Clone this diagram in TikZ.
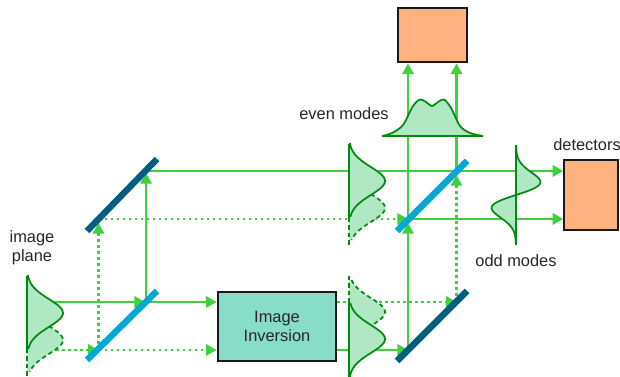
\documentclass[tikz,border=0pt]{standalone}
\usepackage{xcolor}
\usepackage{fontspec}
\setmainfont{Liberation Sans}
\usetikzlibrary{arrows.meta, positioning, calc}
\definecolor{raygreen}{HTML}{3FCF3F}
\definecolor{curvegreen}{HTML}{008A0E}
\definecolor{lobefill}{HTML}{B0E8C4}
\definecolor{mirrorblue}{HTML}{005F7F}
\definecolor{splitblue}{HTML}{00A8D6}
\definecolor{invfill}{HTML}{88DDC8}
\definecolor{detfill}{HTML}{FFB27F}
\tikzset{
	ray/.style={draw=raygreen, line width=1.9pt},
	rayline/.style={ray, -{Triangle[length=8pt, width=8.5pt]}},
	dotline/.style={rayline, dash pattern=on 2.2pt off 2.3pt},
	mirror/.style={draw=mirrorblue, line width=4.8pt},
	splitter/.style={draw=splitblue, line width=4.8pt},
	block/.style={draw=black!90, line width=1.7pt, align=center, inner sep=0pt},
	curve/.style={draw=curvegreen, line width=1.3pt},
	curvedash/.style={curve, dash pattern=on 3.2pt off 2.4pt},
	tag/.style={font=\fontsize{12.3}{14.2}\selectfont, text=black!85, align=center, inner sep=0pt}
}
% One gaussian lobe: axis x, centre y, start and end of the range, line style
\newcommand{\lobe}[5]{
	\fill[lobefill] (#1,#2+#3) -- plot[variable=\t, domain=#3:#4, samples=50] ({#1+36*exp(-(\t*\t)/392)},{#2+\t}) -- (#1,#2+#4) -- cycle;
	\draw[#5] plot[variable=\t, domain=#3:#4, samples=50] ({#1+36*exp(-(\t*\t)/392)},{#2+\t});
}

\begin{document}
\begin{tikzpicture}[x=0.75pt, y=-0.75pt]
	\useasboundingbox (0,0) rectangle (620,377);
	
	% === NODES ===
	\node[block, fill=invfill, minimum width=89pt, minimum height=52pt, font=\fontsize{12.3}{13.6}\selectfont, text=black!85] (inv) at (277,326.5) {Image\\Inversion};
	\node[block, fill=detfill, minimum width=52pt, minimum height=41pt] (dettop) at (432.5,35) {};
	\node[block, fill=detfill, minimum width=40pt, minimum height=52pt] (detright) at (591,195) {};
	
	\node[tag] (plane) at (32,247.5) {image\\plane};
	\node[tag] (even) at (344,114) {even modes};
	\node[tag] (odd) at (516,261) {odd modes};
	\node[tag] (det) at (587,145) {detectors};
	
	% === POINTS ON THE OPTICS ===
	\coordinate (in1) at (50,302);
	\coordinate (in2) at (50,350);
	\coordinate (bs1a) at (145,302);
	\coordinate (bs1b) at (98.5,350);
	\coordinate (m1a) at (146,171);
	\coordinate (m1b) at (98.5,219);
	\coordinate (bs2a) at (456.5,171);
	\coordinate (bs2b) at (408,219);
	\coordinate (m2a) at (408,350);
	\coordinate (m2b) at (456.5,302);
	
	% === CONNECTIONS ===
	\draw[rayline] (in1) -- (bs1a);
	\draw[rayline] (bs1a) -- (inv.west |- bs1a);
	\draw[dotline] (in2) -- (bs1b);
	\draw[dotline] (bs1b) -- (inv.west |- bs1b);
	\draw[rayline] (bs1a -| m1a) -- ($(m1a)+(0,2)$);
	\draw[dotline] (bs1b) -- ($(m1b)+(0,4)$);
	\draw[rayline] (m1a) -- (detright.west |- m1a);
	\draw[dotline] (m1b) -- (bs2b);
	\draw[rayline] (bs2b) -- (detright.west |- bs2b);
	\draw[rayline] (inv.east |- m2a) -- (m2a);
	\draw[dotline] (inv.east |- m2b) -- (m2b);
	\draw[rayline] (m2a) -- ($(bs2b)+(0,4)$);
	\draw[rayline] (bs2b) -- (bs2b |- dettop.south);
	\draw[dotline] (m2b) -- ($(bs2a)+(0,4)$);
	\draw[rayline] (bs2a) -- (bs2a |- dettop.south);
	
	% === MIRRORS ===
	\draw[splitter] (87,360) -- (157,291);
	\draw[mirror] (87,231) -- (157,159);
	\draw[splitter] (397,231) -- (467,161);
	\draw[mirror] (397,361) -- (467,291);
	
	% === PROFILES ===
	% Image plane
	\lobe{27}{340}{-14}{32}{curvedash}
	\lobe{27}{313}{-38}{36}{curve}
	\draw[curve] (27,276) -- (27,349);
	\draw[curvedash] (27,349) -- (27,377);
	% Upper arm
	\lobe{349}{208}{-14}{32}{curvedash}
	\lobe{349}{181}{-38}{36}{curve}
	\draw[curve] (349,144) -- (349,218);
	\draw[curvedash] (349,218) -- (349,245);
	% Lower arm
	\lobe{349}{312}{-32}{14}{curvedash}
	\lobe{349}{339}{-36}{38}{curve}
	\draw[curve] (349,302) -- (349,377);
	\draw[curvedash] (349,276) -- (349,302);
	% Odd modes
	\fill[lobefill] plot[variable=\t, domain=-50:50, samples=80] ({516-3.1*\t*exp(-(\t*\t)/338)},{195+\t});
	\draw[curve] plot[variable=\t, domain=-50:50, samples=80] ({516-3.1*\t*exp(-(\t*\t)/338)},{195+\t});
	\draw[curve] (516,145) -- (516,245);
	% Even modes
	\fill[lobefill] plot[smooth] coordinates {(382,136) (392,133) (403,125) (413,106) (420,99.5) (426,102) (432,106) (438,102) (444,99.5) (451,108) (460,126) (470,133) (483,136)} -- cycle;
	\draw[curve] plot[smooth] coordinates {(382,136) (392,133) (403,125) (413,106) (420,99.5) (426,102) (432,106) (438,102) (444,99.5) (451,108) (460,126) (470,133) (483,136)};
	\draw[curve] (382,136) -- (483,136);
\end{tikzpicture}
\end{document}
